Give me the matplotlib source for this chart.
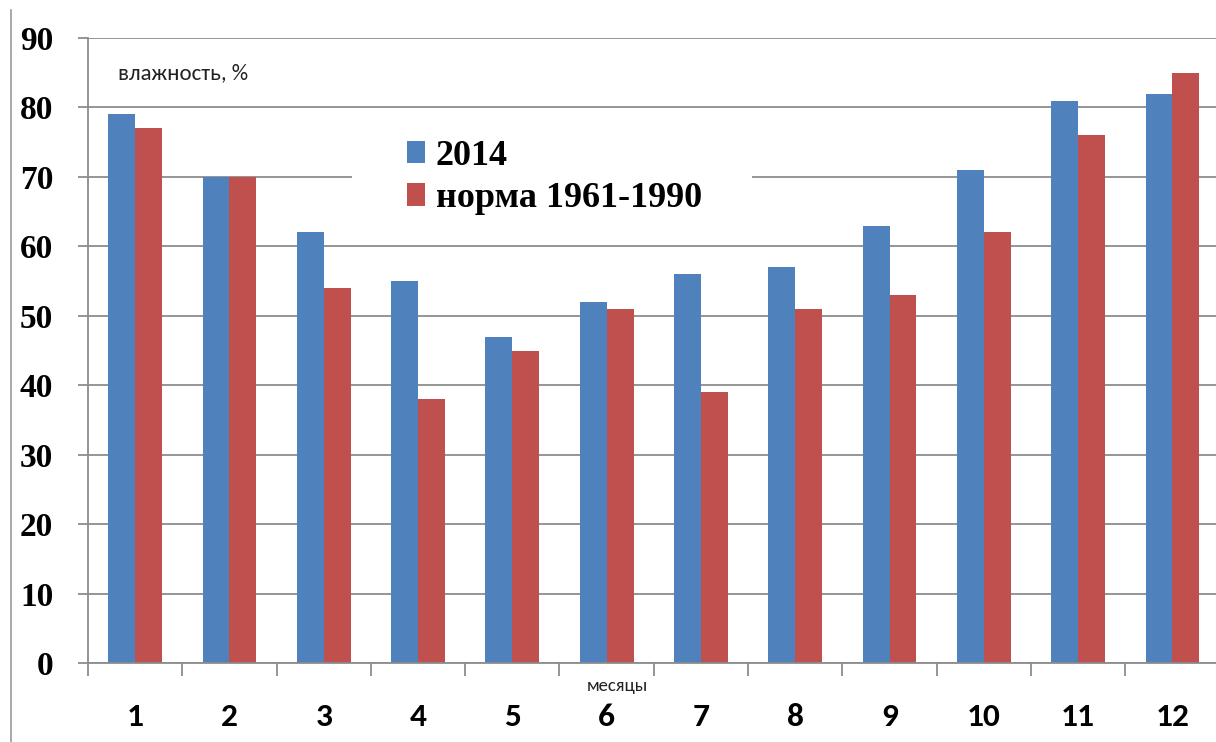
import matplotlib
matplotlib.use("Agg")
import matplotlib.pyplot as plt
import matplotlib.transforms as mtransforms
from matplotlib.patches import Rectangle
from matplotlib.lines import Line2D
import numpy as np

months = ["1", "2", "3", "4", "5", "6", "7", "8", "9", "10", "11", "12"]
y2014 = [79, 70, 62, 55, 47, 52, 56, 57, 63, 71, 81, 82]
norm = [77, 70, 54, 38, 45, 51, 39, 51, 53, 62, 76, 85]
yticks = [0, 10, 20, 30, 40, 50, 60, 70, 80, 90]
label_2014 = "2014"
label_norm = "норма 1961-1990"

BLUE = "#4F81BD"
RED = "#C0504D"
GRID = "#8C8C8C"

W, H = 1216, 742
fig = plt.figure(figsize=(W / 100, H / 100), dpi=100)
fig.patch.set_facecolor("white")

def fx(px):
    return px / W

def fy(py):
    return 1 - py / H

ax = fig.add_axes([fx(88), fy(663), (1219.6 - 88) / W, (663 - 38) / H])

x = np.arange(len(months))
bw = 0.285
ax.bar(x - bw / 2, y2014, width=bw, color=BLUE, label=label_2014, zorder=2)
ax.bar(x + bw / 2, norm, width=bw, color=RED, label=label_norm, zorder=2)

ax.set_xlim(-0.5, len(months) - 0.5)
ax.set_ylim(0, 90)

ax.set_axisbelow(True)
ax.yaxis.grid(True, color=GRID, linewidth=1.3)
ax.xaxis.grid(False)

for s in ["top", "right"]:
    ax.spines[s].set_visible(False)
for s in ["left", "bottom"]:
    ax.spines[s].set_color(GRID)
    ax.spines[s].set_linewidth(1.3)

# y ticks
ax.set_yticks(yticks)
ax.set_yticklabels([str(v) for v in yticks], fontfamily="Liberation Serif",
                   fontweight="bold", fontsize=24)
ax.tick_params(axis="y", direction="out", length=7, width=1.3, color=GRID, pad=18)

# x ticks: labels at centers, tick marks at boundaries
ax.set_xticks(x)
ax.set_xticklabels(months, fontfamily=["Carlito", "Lato", "DejaVu Sans"],
                   fontweight="bold", fontsize=24)
ax.tick_params(axis="x", which="major", length=0, pad=29)
ax.set_xticks(np.arange(-0.5, len(months), 1.0), minor=True)
ax.tick_params(axis="x", which="minor", direction="out", length=9, width=1.3, color=GRID)

# white box behind legend (hides the gridline as in the original)
box = Rectangle(((352 - 88) / 1131.6, 64), (752 - 352) / 1131.6, 12,
                transform=mtransforms.blended_transform_factory(ax.transAxes, ax.transData),
                facecolor="white", edgecolor="none", zorder=1)
ax.add_patch(box)

leg = ax.legend(loc="upper left", bbox_to_anchor=(fx(407), fy(140)),
                bbox_transform=fig.transFigure, frameon=False,
                prop={"family": "Liberation Serif", "weight": "bold", "size": 26},
                handlelength=0.5, handleheight=0.58, handletextpad=0.3,
                labelspacing=0.25, borderpad=0, borderaxespad=0)

# axis captions
fig.text(fx(118), fy(73), "влажность, %", fontfamily=["Carlito", "Lato", "DejaVu Sans"],
         fontsize=16.5, va="center", ha="left", color="#222222")
fig.text(fx(617), fy(686), "месяцы", fontfamily=["Carlito", "Lato", "DejaVu Sans"],
         fontsize=13.5, va="center", ha="center", color="#222222")

# left frame line of the picture
fig.add_artist(Line2D([fx(11), fx(11)], [fy(10), 0], transform=fig.transFigure,
                      color="#9A9A9A", linewidth=1.2))

fig.savefig("out.png", dpi=100)
